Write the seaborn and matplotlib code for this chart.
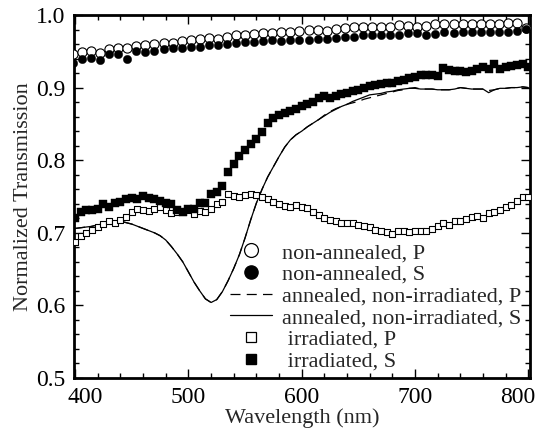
import numpy as np
import matplotlib
matplotlib.use('Agg')
import matplotlib.pyplot as plt
import seaborn as sns
from matplotlib.lines import Line2D
from matplotlib.ticker import MultipleLocator
from matplotlib.transforms import ScaledTranslation

# Data
circle_wl = np.arange(398, 800, 8)   # non-annealed samples, ~8 nm step
square_wl = np.arange(400, 801, 5)   # irradiated samples + annealed curves, 5 nm step

nonann_p = [0.946, 0.949, 0.950, 0.948, 0.953, 0.954, 0.955, 0.957, 0.959, 0.960,
            0.962, 0.961, 0.964, 0.966, 0.967, 0.968, 0.967, 0.970, 0.972, 0.972,
            0.974, 0.975, 0.975, 0.976, 0.977, 0.978, 0.979, 0.979, 0.978, 0.981,
            0.982, 0.983, 0.983, 0.983, 0.983, 0.984, 0.986, 0.985, 0.984, 0.985,
            0.987, 0.987, 0.987, 0.988, 0.988, 0.988, 0.988, 0.988, 0.989, 0.989,
            0.982]
nonann_s = [0.934, 0.939, 0.941, 0.938, 0.946, 0.946, 0.940, 0.950, 0.949, 0.951,
            0.953, 0.955, 0.955, 0.956, 0.956, 0.958, 0.959, 0.960, 0.961, 0.963,
            0.963, 0.964, 0.965, 0.964, 0.966, 0.966, 0.966, 0.967, 0.967, 0.968,
            0.970, 0.970, 0.972, 0.972, 0.972, 0.972, 0.973, 0.975, 0.975, 0.972,
            0.974, 0.976, 0.975, 0.976, 0.976, 0.976, 0.976, 0.976, 0.977, 0.978,
            0.981]

ann_p = [0.706, 0.707, 0.708, 0.709, 0.711, 0.712, 0.714, 0.715, 0.716, 0.714,
         0.712, 0.709, 0.706, 0.703, 0.700, 0.696, 0.690, 0.681, 0.671, 0.660,
         0.646, 0.632, 0.620, 0.609, 0.604, 0.608, 0.619, 0.634, 0.651, 0.670,
         0.693, 0.718, 0.741, 0.760, 0.777, 0.791, 0.805, 0.818, 0.828, 0.835,
         0.840, 0.846, 0.851, 0.856, 0.862, 0.867, 0.871, 0.874, 0.877, 0.879,
         0.881, 0.884, 0.886, 0.888, 0.890, 0.892, 0.894, 0.896, 0.897, 0.899,
         0.900, 0.898, 0.898, 0.898, 0.897, 0.897, 0.897, 0.898, 0.900, 0.899,
         0.898, 0.898, 0.898, 0.896, 0.897, 0.899, 0.899, 0.900, 0.900, 0.901,
         0.900]
ann_s = [0.706, 0.707, 0.708, 0.709, 0.711, 0.712, 0.714, 0.715, 0.716, 0.714,
         0.712, 0.709, 0.706, 0.703, 0.700, 0.696, 0.690, 0.681, 0.671, 0.660,
         0.646, 0.632, 0.620, 0.609, 0.604, 0.608, 0.619, 0.634, 0.651, 0.670,
         0.693, 0.718, 0.741, 0.760, 0.777, 0.791, 0.805, 0.818, 0.828, 0.835,
         0.840, 0.846, 0.851, 0.856, 0.861, 0.866, 0.870, 0.874, 0.877, 0.881,
         0.884, 0.887, 0.890, 0.891, 0.892, 0.894, 0.895, 0.897, 0.898, 0.899,
         0.899, 0.898, 0.898, 0.898, 0.897, 0.897, 0.897, 0.898, 0.900, 0.899,
         0.898, 0.898, 0.898, 0.893, 0.897, 0.899, 0.899, 0.900, 0.900, 0.901,
         0.900]

irr_p = [0.688, 0.695, 0.700, 0.704, 0.708, 0.712, 0.716, 0.714, 0.717, 0.722,
         0.729, 0.733, 0.731, 0.730, 0.733, 0.735, 0.731, 0.727, 0.728, 0.728,
         0.732, 0.726, 0.730, 0.728, 0.733, 0.739, 0.743, 0.754, 0.751, 0.749,
         0.752, 0.753, 0.752, 0.749, 0.746, 0.743, 0.739, 0.737, 0.736, 0.738,
         0.735, 0.734, 0.729, 0.724, 0.720, 0.718, 0.716, 0.714, 0.713, 0.713,
         0.711, 0.710, 0.708, 0.704, 0.702, 0.701, 0.699, 0.702, 0.703, 0.701,
         0.702, 0.703, 0.703, 0.705, 0.709, 0.713, 0.711, 0.716, 0.716, 0.719,
         0.722, 0.723, 0.721, 0.727, 0.729, 0.731, 0.735, 0.738, 0.744, 0.749,
         0.749]
irr_s = [0.720, 0.728, 0.731, 0.732, 0.733, 0.740, 0.736, 0.741, 0.743, 0.746,
         0.748, 0.746, 0.751, 0.748, 0.746, 0.744, 0.741, 0.740, 0.731, 0.729,
         0.733, 0.733, 0.741, 0.741, 0.753, 0.756, 0.765, 0.784, 0.795, 0.806,
         0.814, 0.823, 0.829, 0.839, 0.851, 0.858, 0.862, 0.865, 0.868, 0.871,
         0.874, 0.877, 0.880, 0.886, 0.888, 0.885, 0.889, 0.891, 0.893, 0.895,
         0.897, 0.899, 0.902, 0.903, 0.905, 0.906, 0.907, 0.909, 0.911, 0.913,
         0.914, 0.917, 0.918, 0.917, 0.916, 0.927, 0.924, 0.923, 0.923, 0.922,
         0.923, 0.925, 0.929, 0.925, 0.932, 0.926, 0.929, 0.930, 0.931, 0.932,
         0.929]

labels = ['non-annealed, P', 'non-annealed, S',
          'annealed, non-irradiated, P', 'annealed, non-irradiated, S',
          ' irradiated, P', ' irradiated, S']

sns.set_theme(style='ticks')
plt.rcParams['font.family'] = ['Liberation Serif', 'DejaVu Serif']

fig = plt.figure(figsize=(5.36, 4.34), dpi=100)
ax = fig.add_axes([74 / 536, 56 / 434, 456 / 536, 363 / 434])

# annealed curves
sns.lineplot(x=square_wl, y=ann_p, ax=ax, color='black', lw=0.9,
             estimator=None, sort=False, linestyle=(0, (8, 5)))
sns.lineplot(x=square_wl, y=ann_s, ax=ax, color='black', lw=0.9,
             estimator=None, sort=False)

# irradiated
sns.scatterplot(x=square_wl, y=irr_p, ax=ax, marker='s', s=20,
                facecolor='white', edgecolor='black', linewidth=0.8, zorder=3)
sns.scatterplot(x=square_wl, y=irr_s, ax=ax, marker='s', s=26,
                color='black', edgecolor='black', linewidth=0.3, zorder=3)

# non-annealed
sns.scatterplot(x=circle_wl, y=nonann_p, ax=ax, marker='o', s=44,
                facecolor='white', edgecolor='black', linewidth=0.8, zorder=4)
sns.scatterplot(x=circle_wl, y=nonann_s, ax=ax, marker='o', s=36,
                color='black', edgecolor='black', linewidth=0.3, zorder=4)

ax.set_xlim(399, 801.5)
ax.set_ylim(0.5, 1.0)
ax.set_xticks([400, 500, 600, 700, 800])
ax.set_yticks([0.5, 0.6, 0.7, 0.8, 0.9, 1.0])
ax.set_yticklabels(['0.5', '0.6', '0.7', '0.8', '0.9', '1.0'])
ax.xaxis.set_minor_locator(MultipleLocator(20))
ax.yaxis.set_minor_locator(MultipleLocator(0.02))
ax.tick_params(which='both', direction='in', top=True, right=True,
               colors='black', labelsize=17, width=1.0, pad=6.5)
ax.tick_params(which='major', length=6.5)
ax.tick_params(which='minor', length=3.6)
for sp in ax.spines.values():
    sp.set_linewidth(2.0)
    sp.set_color('black')

ax.set_xlabel('Wavelength (nm)', fontsize=16, labelpad=0)
ax.set_ylabel('Normalized Transmission', fontsize=16, labelpad=2)

# edge tick labels sit inward like the original
xl = ax.get_xticklabels()
xl[0].set_transform(xl[0].get_transform() + ScaledTranslation(10 / 100, 0, fig.dpi_scale_trans))
xl[-1].set_transform(xl[-1].get_transform() + ScaledTranslation(-11 / 100, 0, fig.dpi_scale_trans))

handles = [
    Line2D([], [], ls='none', marker='o', ms=10, mfc='white', mec='black', mew=0.9),
    Line2D([], [], ls='none', marker='o', ms=9.5, mfc='black', mec='black'),
    Line2D([], [], color='black', lw=0.9, linestyle=(0, (8, 5))),
    Line2D([], [], color='black', lw=0.9),
    Line2D([], [], ls='none', marker='s', ms=7, mfc='white', mec='black', mew=0.9),
    Line2D([], [], ls='none', marker='s', ms=7.5, mfc='black', mec='black'),
]
ax.legend(handles, labels, loc='upper left', bbox_to_anchor=(0.342, 0.373),
          frameon=False, fontsize=16, handlelength=1.9, handletextpad=0.45,
          labelspacing=0.05, borderpad=0, borderaxespad=0)

fig.savefig('out.png', dpi=100)
